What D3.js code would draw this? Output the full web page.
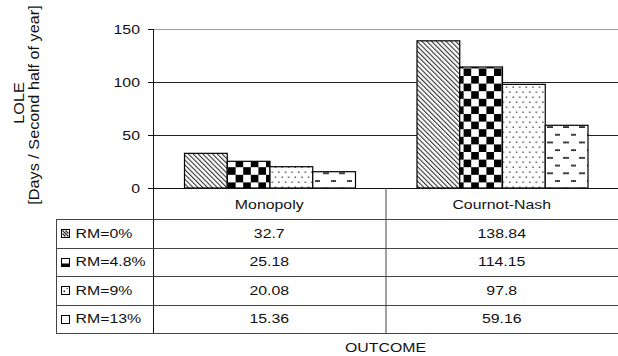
<!DOCTYPE html>
<html>
<head>
<meta charset="utf-8">
<script src="https://cdn.jsdelivr.net/npm/d3@7"></script>
<style>
  html, body { margin: 0; padding: 0; background: #fff; }
  svg { display: block; font-family: "Liberation Sans", Arial, sans-serif; }
</style>
</head>
<body>
<svg id="chart" width="618" height="356"></svg>
<script>
// Outcome categories, reserve-margin series and values (LOLE, days)
const categories = ["Monopoly", "Cournot-Nash"];
const seriesNames = ["RM=0%", "RM=4.8%", "RM=9%", "RM=13%"];
const seriesValues = [
  [32.7, 138.84],
  [25.18, 114.15],
  [20.08, 97.8],
  [15.36, 59.16]
];
const yTicks = [0, 50, 100, 150];
const yTitle = ["LOLE", "[Days / Second half of year]"];
const xTitle = "OUTCOME";

const svg = d3.select("#chart");
const defs = svg.append("defs");

// Layout
const plotLeft = 153, plotRight = 618, plotTop = 29, plotBottom = 188;
const tableLeft = 56;
const headerBottom = 219;
const rowH = 28.5;
const SX = 1.22;          // horizontal stretch of the label lettering
const FS = 13;

const x0 = d3.scaleBand().domain(categories).range([plotLeft, plotRight]).padding(0);
const x1 = d3.scaleBand().domain(seriesNames).range([31, 202]).padding(0);
const y = d3.scaleLinear().domain([0, 150]).range([plotBottom, plotTop]);

// ---- fill patterns for the four series ----
function pat(id, w, h, extra) {
  const p = defs.append("pattern").attr("id", id)
    .attr("patternUnits", "userSpaceOnUse").attr("width", w).attr("height", h);
  if (extra) p.attr("patternTransform", extra);
  p.append("rect").attr("width", w).attr("height", h).attr("fill", "#fff");
  return p;
}
// diagonal hatch
const pDiag = pat("p0", 3.4, 10, "rotate(-45)");
pDiag.append("rect").attr("x", 0).attr("y", 0).attr("width", 1.1).attr("height", 10).attr("fill", "#333");
// checkerboard
const c = 7.6;
const pChk = pat("p1", 2 * c, 2 * c);
pChk.append("rect").attr("x", 0).attr("y", 0).attr("width", c).attr("height", c).attr("fill", "#000");
pChk.append("rect").attr("x", c).attr("y", c).attr("width", c).attr("height", c).attr("fill", "#000");
// sparse dots
const pDot = pat("p2", 6.6, 10);
[[1, 1.5], [4.3, 6.5]].forEach(([a, b]) =>
  pDot.append("rect").attr("x", a).attr("y", b).attr("width", 1.4).attr("height", 1.4).attr("fill", "#444"));
// staggered dashes
const pDash = pat("p3", 16, 15.4);
[[3, 3], [11, 10.7]].forEach(([a, b]) =>
  pDash.append("rect").attr("x", a).attr("y", b).attr("width", 6).attr("height", 1.8).attr("fill", "#333"));
const patIds = ["p0", "p1", "p2", "p3"];

// helper for stretched text
function label(g, txt, x, yy, anchor, sx, size, rot) {
  return g.append("text")
    .attr("transform", `translate(${x},${yy})` + (rot ? " rotate(-90)" : "") + ` scale(${sx},1)`)
    .attr("text-anchor", anchor)
    .attr("font-size", size)
    .attr("fill", "#111")
    .text(txt);
}

// ---- gridlines ----
const grid = svg.append("g");
yTicks.filter(d => d > 0).forEach(d => {
  grid.append("line")
    .attr("x1", plotLeft).attr("x2", plotRight)
    .attr("y1", Math.round(y(d)) + 0.5).attr("y2", Math.round(y(d)) + 0.5)
    .attr("stroke", d === 150 ? "#999" : "#222").attr("stroke-width", 1);
});

// ---- bars ----
const bars = svg.append("g");
seriesNames.forEach((s, si) => {
  categories.forEach((cat, ci) => {
    const v = seriesValues[si][ci];
    bars.append("rect")
      .attr("x", x0(cat) + x1(s) + 0.5)
      .attr("y", y(v))
      .attr("width", x1.bandwidth())
      .attr("height", y(0) - y(v))
      .attr("fill", `url(#${patIds[si]})`)
      .attr("stroke", "#000").attr("stroke-width", 1.2);
  });
});

// ---- y axis ----
const axis = svg.append("g");
axis.append("line").attr("x1", plotLeft + 0.5).attr("x2", plotLeft + 0.5)
  .attr("y1", plotTop).attr("y2", headerBottom + rowH * 4).attr("stroke", "#111");
yTicks.forEach(d => {
  const yy = Math.round(y(d)) + 0.5;
  axis.append("line").attr("x1", plotLeft - 5).attr("x2", plotLeft)
    .attr("y1", yy).attr("y2", yy).attr("stroke", "#111");
  label(axis, d, 140, yy + 4.5, "end", SX, FS);
});
// baseline
axis.append("line").attr("x1", plotLeft).attr("x2", plotRight)
  .attr("y1", plotBottom + 0.5).attr("y2", plotBottom + 0.5).attr("stroke", "#111");

// y titles
label(svg, yTitle[0], 23.5, 103, "middle", 1.16, 14, true);
label(svg, yTitle[1], 39, 105, "middle", 1.16, 14, true);

// ---- data table ----
const tbl = svg.append("g");
const lineCol = "#444";
// header row: category names
categories.forEach(cat => {
  label(tbl, cat, x0(cat) + x0.bandwidth() / 2, 208.5, "middle", SX, FS);
});
// category separator
tbl.append("line").attr("x1", x0(categories[1]) + 0.5).attr("x2", x0(categories[1]) + 0.5)
  .attr("y1", plotBottom).attr("y2", headerBottom + rowH * 4).attr("stroke", lineCol);
// horizontal rules
d3.range(5).forEach(i => {
  const yy = Math.round(headerBottom + rowH * i) + 0.5;
  tbl.append("line").attr("x1", tableLeft).attr("x2", plotRight)
    .attr("y1", yy).attr("y2", yy).attr("stroke", lineCol);
});
// left border
tbl.append("line").attr("x1", tableLeft + 0.5).attr("x2", tableLeft + 0.5)
  .attr("y1", headerBottom).attr("y2", headerBottom + rowH * 4 + 1).attr("stroke", lineCol);

seriesNames.forEach((s, si) => {
  const cy = headerBottom + rowH * si + rowH / 2;
  // legend key
  const kx = 61.5, ky = Math.round(cy - 4) + 0.5, ks = 8;
  tbl.append("rect").attr("x", kx).attr("y", ky).attr("width", ks).attr("height", ks)
    .attr("fill", "#fff").attr("stroke", "#000");
  if (si === 0) {
    tbl.append("path").attr("d", `M${kx + 1},${ky + 1}L${kx + ks - 1},${ky + ks - 1}M${kx + 1},${ky + 4}L${kx + 4},${ky + ks - 1}M${kx + 4},${ky + 1}L${kx + ks - 1},${ky + 4}`)
      .attr("stroke", "#222").attr("stroke-width", 1.1);
  } else if (si === 1) {
    tbl.append("rect").attr("x", kx).attr("y", ky + ks - 3).attr("width", ks).attr("height", 3).attr("fill", "#000");
  } else if (si === 2) {
    tbl.append("rect").attr("x", kx + 2).attr("y", ky + 4).attr("width", 1.6).attr("height", 1.6).attr("fill", "#222");
    tbl.append("rect").attr("x", kx + 5).attr("y", ky + 1.5).attr("width", 1.2).attr("height", 1.2).attr("fill", "#555");
  }
  label(tbl, s, 75.5, cy + 4.5, "start", SX, FS);
  categories.forEach((cat, ci) => {
    label(tbl, seriesValues[si][ci], x0(cat) + x0.bandwidth() / 2, cy + 4.5, "middle", SX, FS);
  });
});

// x title
label(svg, xTitle, x0(categories[1]), 352, "middle", SX, FS);
</script>
</body>
</html>
